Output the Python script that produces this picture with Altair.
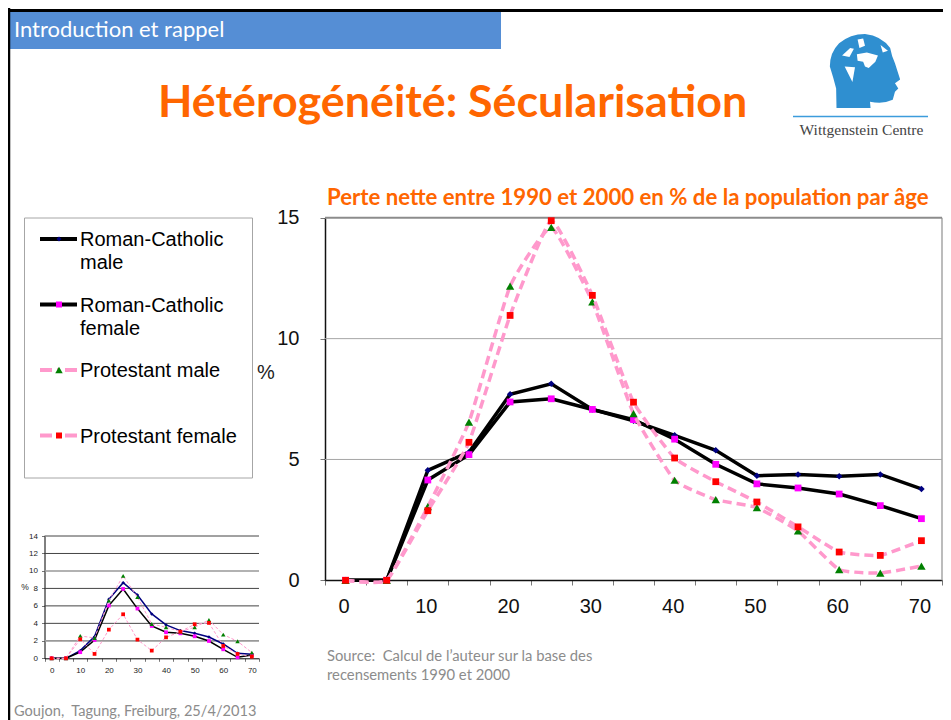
import altair as alt
import pandas as pd

AGES = list(range(0, 75, 5))

# Main chart values
RC_MALE = [0, 0, 4.55, 5.3, 7.7, 8.13, 7.07, 6.6, 6.0, 5.38, 4.33, 4.38, 4.31, 4.38, 3.78]
RC_FEMALE = [0, 0, 4.15, 5.2, 7.38, 7.51, 7.07, 6.65, 5.84, 4.8, 3.99, 3.82, 3.57, 3.09, 2.55]
PR_MALE = [0, 0, 3.05, 6.55, 12.17, 14.6, 11.52, 6.9, 4.14, 3.34, 3.01, 2.04, 0.44, 0.3, 0.59]
PR_FEMALE = [0, 0, 2.88, 5.71, 10.96, 14.88, 11.79, 7.37, 5.06, 4.08, 3.24, 2.21, 1.17, 1.03, 1.64]

# Inset values
S_RC_MALE = [0, 0, 0.88, 2.48, 6.75, 8.66, 7.25, 5.08, 3.82, 3.17, 2.86, 2.44, 1.64, 0.57, 0.46]
S_RC_FEMALE = [0, 0, 0.7, 2.1, 6.03, 7.94, 5.69, 3.7, 2.98, 2.86, 2.52, 1.98, 1.03, 0.11, 0.38]
S_PR_MALE = [0, 0, 2.56, 2.33, 6.6, 9.43, 7.0, 3.93, 3.55, 3.05, 3.55, 4.39, 2.71, 1.95, 0.65]
S_PR_FEMALE = [0, 0, 2.18, 0.5, 3.28, 5.04, 2.14, 0.88, 2.4, 3.05, 3.9, 4.05, 1.41, 0.5, 0.19]

W, H = 935, 712
ORANGE = "#FF6600"
BLUE = "#558ED5"
PINK = "#FF99CC"
GREY = "#8C8C8C"
SANS = "Liberation Sans"
CAL = "Lato"


def px(v):
    return alt.value(v - 8)


def text(s, x, y, size, color="#000000", font=SANS, weight="normal", align="left"):
    dy = 0.065 * size
    return alt.Chart(alt.Data(values=[{}])).mark_text(
        font=font, fontSize=size, color=color, fontWeight=weight, align=align, baseline="middle"
    ).encode(x=px(x), y=px(y + dy), text=alt.value(s))


def rect(x1, x2, y1, y2, color):
    return alt.Chart(alt.Data(values=[{}])).mark_rect(color=color).encode(
        x=px(x1), x2=px(x2), y=px(y1), y2=px(y2)
    )


def hline(x1, x2, y, color, width, dash=None):
    kw = {"strokeDash": dash} if dash else {}
    return alt.Chart(alt.Data(values=[{}])).mark_rule(color=color, strokeWidth=width, **kw).encode(
        x=px(x1), x2=px(x2), y=px(y)
    )


def vline(x, y1, y2, color, width):
    return alt.Chart(alt.Data(values=[{}])).mark_rule(color=color, strokeWidth=width).encode(
        x=px(x), y=px(y1), y2=px(y2)
    )


def marker(x, y, shape, color, size):
    return alt.Chart(alt.Data(values=[{}])).mark_point(
        shape=shape, filled=True, color=color, size=size, opacity=1, strokeWidth=0
    ).encode(x=px(x), y=px(y))


def panel_scales(x_range, y_range, y_domain):
    xs = alt.Scale(type="band", domain=AGES, range=x_range, paddingInner=0, paddingOuter=0)
    ys = alt.Scale(domain=y_domain, range=y_range, nice=False, zero=False)
    return xs, ys


def carrier(xs, ys, x_axis, y_axis):
    axis_df = pd.DataFrame({"age": AGES, "v": [0] * len(AGES)})
    return alt.Chart(axis_df).mark_point(opacity=0, size=1).encode(
        x=alt.X("age:O", scale=xs, axis=x_axis),
        y=alt.Y("v:Q", scale=ys, axis=y_axis),
    )


def panel(series, xs, ys, x_range, grid_rows, styles, dash, lw, plw, interp):
    X = alt.X("age:O", scale=xs, axis=None)
    Y = alt.Y("v:Q", scale=ys, axis=None)
    layers = []
    for g, gcolor, gw in grid_rows:
        layers.append(
            alt.Chart(pd.DataFrame({"v": g})).mark_rule(color=gcolor, strokeWidth=gw).encode(
                x=alt.value(x_range[0]), x2=alt.value(x_range[1]), y=Y
            )
        )
    for (vals, style) in zip(series, styles):
        df = pd.DataFrame({"age": AGES, "v": vals})
        lc, dashed, shape, mc, ms = style
        kw = {"strokeDash": dash, "strokeWidth": plw, "interpolate": interp, "tension": 0.6} if dashed else {"strokeWidth": lw}
        layers.append(alt.Chart(df).mark_line(color=lc, **kw).encode(x=X, y=Y))
        layers.append(
            alt.Chart(df).mark_point(shape=shape, filled=True, color=mc, size=ms, opacity=1, strokeWidth=0).encode(x=X, y=Y)
        )
    return alt.layer(*layers)


main_styles = [
    ("#000000", False, "diamond", "#000080", 42),
    ("#000000", False, "square", "#FF00FF", 46),
    (PINK, True, "triangle-up", "#008000", 70),
    (PINK, True, "square", "#FF0000", 46),
]
small_styles = [
    ("#000080", False, "diamond", "#000080", 12),
    ("#000000", False, "square", "#FF00FF", 14),
    (PINK, True, "triangle-up", "#008000", 20),
    (PINK, True, "square", "#FF0000", 14),
]

label_expr = "datum.value % 10 == 0 ? datum.label : ''"

main_x_axis = alt.Axis(
    orient="bottom", offset=-(H - 572), tickBand="extent", values=AGES, labelExpr=label_expr,
    labelAngle=0, labelOverlap=False, labelFont=SANS, labelFontSize=20, labelColor="#111111",
    domainColor="#111111", domainWidth=1.5, tickColor="#777777", tickWidth=1, tickSize=5, labelPadding=11,
    labelOffset=-2, grid=False, title=None,
)
main_y_axis = alt.Axis(
    orient="left", offset=-(325 - 8), values=[0, 5, 10, 15], labelFont=SANS, labelFontSize=20,
    labelColor="#111111", domainColor="#111111", domainWidth=1.5, tickColor="#777777", tickWidth=1, tickSize=5,
    labelPadding=21, grid=False, title=None,
)
small_x_axis = alt.Axis(
    orient="bottom", offset=-(H - 650.3), tickBand="extent", values=AGES, labelExpr=label_expr,
    labelAngle=0, labelOverlap=False, labelFont=SANS, labelFontSize=8, labelColor="#222222",
    domainColor="#000000", domainWidth=1, tickColor="#777777", tickWidth=1, tickSize=3, labelPadding=5,
    grid=False, title=None,
)
small_y_axis = alt.Axis(
    orient="left", offset=-(44.5 - 8), values=[0, 2, 4, 6, 8, 10, 12, 14], labelFont=SANS, labelFontSize=8,
    labelColor="#222222", domainColor="#000000", domainWidth=1, tickColor="#777777", tickSize=3, labelPadding=4,
    grid=False, title=None,
)

mxs, mys = panel_scales([325 - 8, 942 - 8], [580.3 - 8, 217.8 - 8], [0, 15])
sxs, sys_ = panel_scales([44.5 - 8, 259 - 8], [658.3 - 8, 536 - 8], [0, 14])

main_panel = panel(
    [RC_MALE, RC_FEMALE, PR_MALE, PR_FEMALE], mxs, mys, [325 - 8, 942 - 8],
    [([5, 10], "#A6A6A6", 1), ([15], "#8C8C8C", 2)], main_styles, [9, 5], 3.5, 3.5, "cardinal",
)
small_panel = panel(
    [S_RC_MALE, S_RC_FEMALE, S_PR_MALE, S_PR_FEMALE], sxs, sys_, [44.5 - 8, 259 - 8],
    [([4, 6, 8, 12, 14], "#444444", 1), ([2, 10], "#999999", 1.6)], small_styles,
    [3, 2], 1.5, 1, "linear",
)

# Logo drawn from custom symbols
HEAD = ("M-0.77 1 L-0.78 0.47 Q-0.85 0.2 -0.95 -0.12 Q-0.95 -0.5 -0.7 -0.75 Q-0.4 -1 0 -1 "
        "Q0.45 -0.95 0.68 -0.62 Q0.72 -0.4 0.81 -0.21 L0.95 0.23 L0.81 0.33 L0.9 0.47 L0.81 0.56 "
        "L0.75 0.78 Q0.5 0.9 0.135 0.83 L0.15 1 Z")
LAND = ("M-0.55 -0.12 L-0.27 -0.1 L-0.34 0.3 Z "
        "M-0.22 -0.45 L0.05 -0.5 L0.35 -0.42 L0.28 -0.25 L0.1 -0.08 L0 -0.12 L-0.05 -0.25 L-0.2 -0.28 Z "
        "M-0.4 -0.62 L-0.3 -0.6 L-0.42 -0.38 L-0.62 -0.42 Z "
        "M-0.2 -0.85 L-0.05 -0.88 L0 -0.68 L-0.15 -0.62 Z M0.42 -0.7 L0.62 -0.55 L0.48 -0.5 Z")

logo = [
    marker(865, 71, HEAD, "#2F8FD0", 37 * 37 * 4),
    marker(865, 71, LAND, "#FFFFFF", 37 * 37 * 4),
    hline(793, 928, 116.5, "#3C9CDC", 1.5),
    text("Wittgenstein Centre", 861.5, 129, 15.5, "#444444", "Liberation Serif", align="center"),
]

decor = [
    hline(8, 951, 10.5, "#000000", 3),
    rect(8, 501, 12, 49, BLUE),
    vline(9, 8, 720, "#000000", 2.5),
    text("Introduction et rappel", 14, 29, 22, "#FFFFFF", CAL),
    text("Hétérogénéité: Sécularisation", 158, 101, 44.8, ORANGE, CAL, "bold"),
    text("Perte nette entre 1990 et 2000 en % de la population par âge", 327, 197, 22.2, ORANGE, CAL, "bold"),
    text("Source:\u00a0 Calcul de l’auteur sur la base des", 327, 656, 14.8, GREY, CAL),
    text("recensements 1990 et 2000", 327, 675, 14.8, GREY, CAL),
    text("Goujon,\u00a0 Tagung, Freiburg, 25/4/2013", 14, 711, 14.6, GREY, CAL),
    text("%", 257, 372, 20, "#222222"),
    text("%", 25, 586, 8.5, "#222222", align="center"),
    # main plot frame
    vline(942, 217.8, 580.3, "#A6A6A6", 1.5),
    # legend
    alt.Chart(alt.Data(values=[{}])).mark_rect(fill="#FFFFFF", stroke="#A6A6A6", strokeWidth=1).encode(
        x=px(24.5), x2=px(252.5), y=px(218), y2=px(478)
    ),
    hline(40, 77, 239, "#000000", 4),
    marker(59, 239, "diamond", "#000080", 24),
    text("Roman-Catholic", 80, 239, 20),
    text("male", 80, 262, 20),
    hline(40, 77, 304.5, "#000000", 4),
    marker(59, 304.5, "square", "#FF00FF", 36),
    text("Roman-Catholic", 80, 304.5, 20),
    text("female", 80, 327.5, 20),
    hline(40, 77, 370, PINK, 4, [12, 5, 3, 5]),
    marker(59, 370, "triangle-up", "#008000", 56),
    text("Protestant male", 80, 370, 20),
    hline(40, 77, 435.5, PINK, 4, [12, 5, 3, 5]),
    marker(59, 435.5, "square", "#FF0000", 36),
    text("Protestant female", 80, 435.5, 20),
]

chart = alt.layer(
    *decor, *logo,
    carrier(mxs, mys, main_x_axis, main_y_axis),
    carrier(sxs, sys_, small_x_axis, small_y_axis),
    main_panel, small_panel,
).resolve_scale(
    x="independent", y="independent"
).properties(
    width=W, height=H, padding=0, background="#FFFFFF",
    autosize=alt.AutoSizeParams(type="none", contains="padding"),
).configure_view(stroke=None)

chart.save("out.html", embed_options={"renderer": "svg", "actions": False})
